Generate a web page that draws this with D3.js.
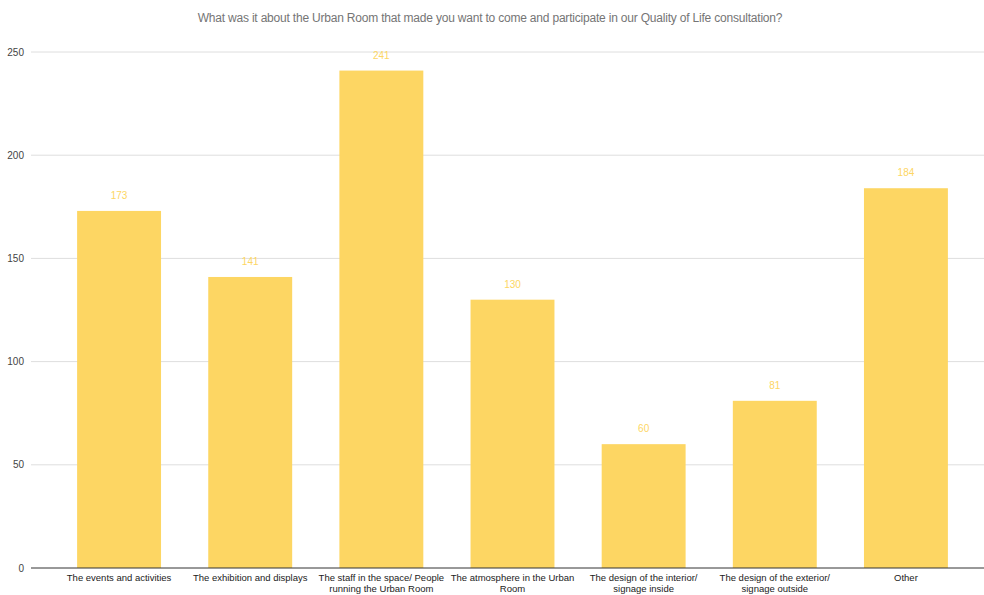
<!DOCTYPE html>
<html><head><meta charset="utf-8">
<script src="https://cdn.jsdelivr.net/npm/d3@7"></script>
<style>body{margin:0;background:#fff}svg{display:block}</style>
</head><body><svg id="c" width="984" height="595"></svg>
<script>
const categories = [
  ["The events and activities"],
  ["The exhibition and displays"],
  ["The staff in the space/ People", "running the Urban Room"],
  ["The atmosphere in the Urban", "Room"],
  ["The design of the interior/", "signage inside"],
  ["The design of the exterior/", "signage outside"],
  ["Other"]
];
const values = [173, 141, 241, 130, 60, 81, 184];
const yTicks = [0, 50, 100, 150, 200, 250];
const title = "What was it about the Urban Room that made you want to come and participate in our Quality of Life consultation?";

(function () {
const svg = d3.select("#c");
const W = 984;
const pl = 31, pr = 984, pt = 52, pb = 568;
const font = "Liberation Sans, Arial, sans-serif";
const idx = categories.map((d, i) => i);
const x = d3.scaleBand().domain(idx).range([53.5, 971.5]).paddingInner(0.36).paddingOuter(0.18);
const y = d3.scaleLinear().domain([0, 250]).range([pb, pt]);

svg.append("text").attr("x", W/2 - 2).attr("y", 22).attr("text-anchor", "middle")
  .attr("font-family", font).attr("font-size", 12).attr("letter-spacing", -0.2)
  .attr("fill", "#757575").text(title);

svg.append("g").selectAll("line").data(yTicks.filter(t => t > 0)).join("line")
  .attr("x1", pl).attr("x2", pr).attr("y1", d => y(d)).attr("y2", d => y(d))
  .attr("stroke", "#dedede").attr("stroke-width", 1);

svg.append("g").selectAll("text").data(yTicks).join("text")
  .attr("x", 24).attr("y", d => y(d) + 3.5).attr("text-anchor", "end")
  .attr("font-family", font).attr("font-size", 10).attr("fill", "#444").text(d => d);

svg.append("g").selectAll("rect").data(values).join("rect")
  .attr("x", (d, i) => x(i)).attr("width", x.bandwidth())
  .attr("y", d => y(d)).attr("height", d => y(0) - y(d))
  .attr("fill", "#fdd663");

svg.append("g").selectAll("text").data(values).join("text")
  .attr("x", (d, i) => x(i) + x.bandwidth()/2).attr("y", d => y(d) - 12)
  .attr("text-anchor", "middle").attr("font-family", font).attr("font-size", 10)
  .attr("fill", "#fdd663").text(d => d);

svg.append("line").attr("x1", pl).attr("x2", pr).attr("y1", y(0)).attr("y2", y(0))
  .attr("stroke", "#333").attr("stroke-width", 1);

const xl = svg.append("g").selectAll("text").data(categories).join("text")
  .attr("text-anchor", "middle").attr("font-family", font).attr("font-size", 9.5).attr("fill", "#222")
  .attr("transform", (d, i) => `translate(${x(i) + x.bandwidth()/2},${y(0) + 13})`);
xl.selectAll("tspan").data(d => d).join("tspan")
  .attr("x", 0).attr("dy", (d, j) => j === 0 ? 0 : 11).text(d => d);
})();
</script></body></html>
